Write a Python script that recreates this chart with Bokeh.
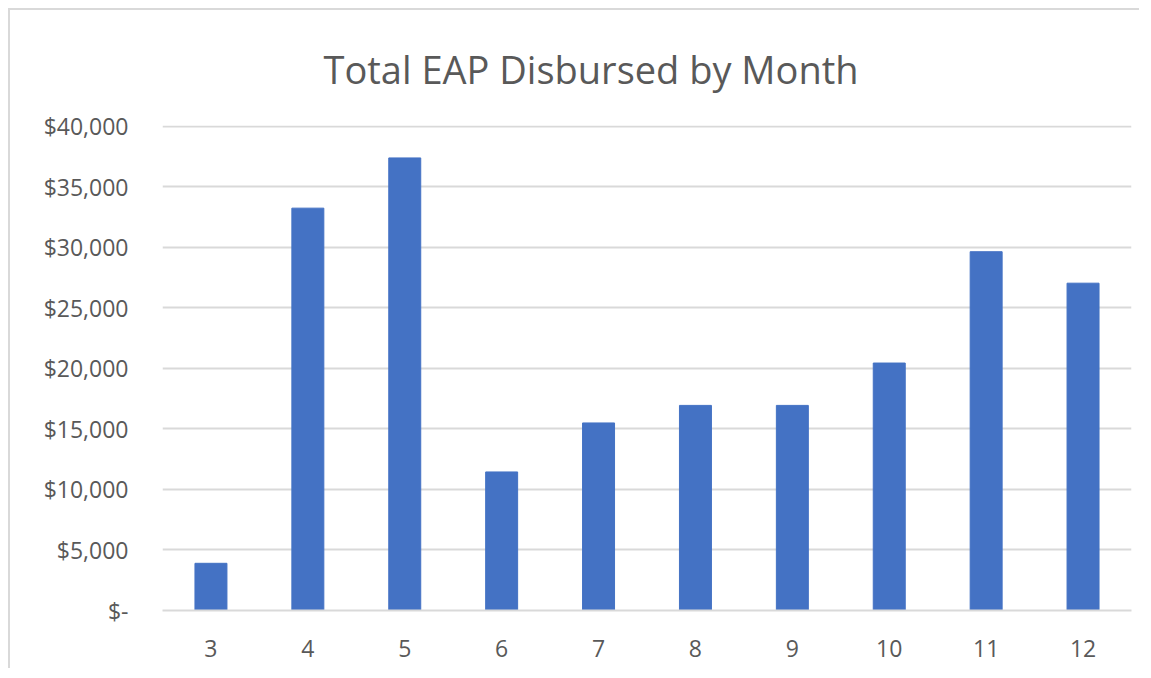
from bokeh.plotting import figure
from bokeh.models import FactorRange, Range1d, FixedTicker, ColumnDataSource
from bokeh.embed import file_html
from bokeh.resources import INLINE

months = ["3", "4", "5", "6", "7", "8", "9", "10", "11", "12"]
disbursed = [3900, 33250, 37400, 11450, 15500, 16950, 16950, 20450, 29650, 27050]
y_ticks = [0, 5000, 10000, 15000, 20000, 25000, 30000, 35000, 40000]
y_tick_labels = ["$-", "$5,000", "$10,000", "$15,000", "$20,000", "$25,000",
                 "$30,000", "$35,000", "$40,000"]

src = ColumnDataSource(dict(month=months, value=disbursed))

p = figure(width=1131, height=660, output_backend="svg", toolbar_location=None,
           x_range=FactorRange(*months), y_range=Range1d(0, 40080),
           title="Total EAP Disbursed by Month",
           min_border_left=152, min_border_right=10, min_border_top=113, min_border_bottom=60)
p.styles = {"margin-left": "8px", "margin-top": "8px",
            "border-left": "2px solid #d9d9d9", "border-top": "2px solid #d9d9d9"}

p.vbar(x="month", top="value", width=0.33, source=src, color="#4472C4")

p.title.text_font = "Open Sans"
p.title.text_font_size = "38px"
p.title.text_font_style = "normal"
p.title.text_color = "#595959"
p.title.align = "left"
p.title.offset = 161
p.title.standoff = 61

p.outline_line_color = None
p.xgrid.grid_line_color = None
p.ygrid.grid_line_color = "#d9d9d9"
p.ygrid.grid_line_width = 2

p.yaxis.ticker = FixedTicker(ticks=y_ticks)
p.yaxis.major_label_overrides = {t: l for t, l in zip(y_ticks, y_tick_labels)}
p.yaxis.axis_line_color = None
p.yaxis.major_tick_line_color = None
p.yaxis.minor_tick_line_color = None
p.yaxis.major_label_standoff = 28

p.xaxis.axis_line_color = "#d9d9d9"
p.xaxis.axis_line_width = 2
p.xaxis.major_tick_line_color = None
p.xaxis.major_label_standoff = 23

for ax in (p.xaxis, p.yaxis):
    ax.major_label_text_font = "Open Sans"
    ax.major_label_text_font_size = "23px"
    ax.major_label_text_color = "#595959"

open("out.html", "w").write(file_html(p, INLINE))
